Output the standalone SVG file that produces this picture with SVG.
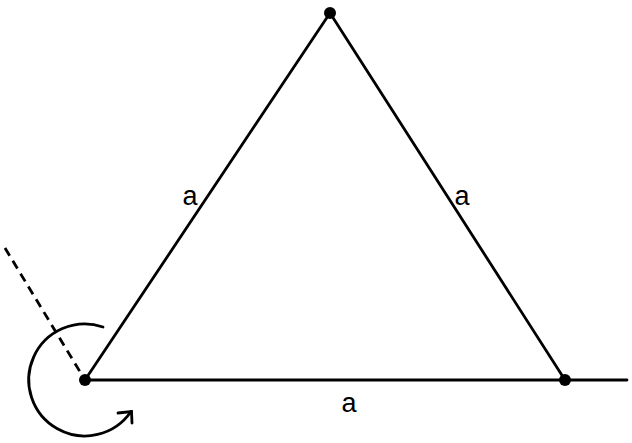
<svg xmlns="http://www.w3.org/2000/svg" width="632" height="443" viewBox="0 0 632 443">
<style>
.ln{stroke:#000;stroke-width:2.8;fill:none;stroke-linecap:round}
.dash{stroke:#000;stroke-width:2.8;fill:none;stroke-dasharray:9,6}
.lbl{font-family:"Liberation Sans",Arial,sans-serif;font-size:27px;fill:#000;text-anchor:middle}
.dot{fill:#000}
</style>
<rect width="632" height="443" fill="#fff"/>
<g id="connectors">
<line class="ln" x1="85" y1="380" x2="330" y2="13"/>
<line class="ln" x1="330" y1="13" x2="565" y2="380"/>
<line class="ln" x1="85" y1="380" x2="627" y2="380"/>
<line class="dash" x1="5" y1="248" x2="85" y2="380"/>
<path class="ln" d="M103 327 A56 56 0 1 0 131 411.5"/>
<path class="ln" d="M118 413 L131.5 411.5 L132 423"/>
</g>
<g id="vertexA"><circle class="dot" cx="85" cy="380" r="6"/></g>
<g id="vertexB"><circle class="dot" cx="565" cy="380" r="6"/></g>
<g id="vertexC"><circle class="dot" cx="330" cy="13" r="6"/></g>
<g id="labels">
<text class="lbl" x="190" y="205">a</text>
<text class="lbl" x="462" y="205">a</text>
<text class="lbl" x="349" y="412">a</text>
</g>
</svg>
